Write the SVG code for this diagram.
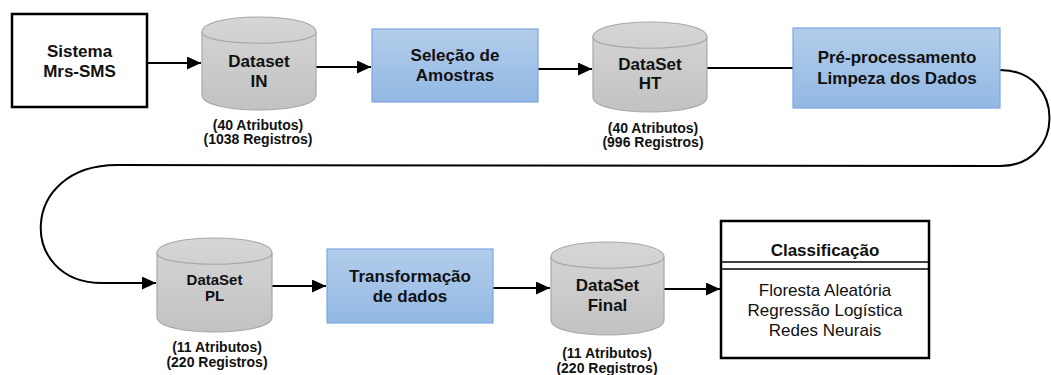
<svg xmlns="http://www.w3.org/2000/svg" width="1051" height="375" viewBox="0 0 1051 375">
<defs>
<linearGradient id="gBlue" x1="0" y1="0" x2="0" y2="1">
<stop offset="0" stop-color="#b3cdeb"/>
<stop offset="1" stop-color="#92b8e3"/>
</linearGradient>
<linearGradient id="gGray" x1="0" y1="0" x2="0" y2="1">
<stop offset="0" stop-color="#d6d6d6"/>
<stop offset="1" stop-color="#c2c2c2"/>
</linearGradient>
<marker id="arr" markerUnits="userSpaceOnUse" markerWidth="14" markerHeight="13" refX="14" refY="6.5" orient="auto">
<path d="M0,0 L14,6.5 L0,13 Z" fill="#000"/>
</marker>
</defs>
<style>
.t{font-family:"Liberation Sans",Arial,sans-serif;font-weight:bold;font-size:17px;text-anchor:middle;fill:#111}
.s{font-size:15px}
.lbl{font-family:"Liberation Sans",Arial,sans-serif;font-weight:bold;font-size:14px;text-anchor:middle;fill:#111}
.r{font-family:"Liberation Sans",Arial,sans-serif;font-size:17px;text-anchor:middle;fill:#111}
.box{fill:#fff;stroke:#000;stroke-width:2.5}
.proc{fill:url(#gBlue);stroke:#7ea6e0;stroke-width:1.2}
.cyl{fill:url(#gGray);stroke:#a8a8a8;stroke-width:1.2}
.cyl2{fill:none;stroke:#a8a8a8;stroke-width:1.2}
.c{fill:none;stroke:#000;stroke-width:2}
</style>

<g id="connectors">
<path class="c" d="M147,63 L201,63" marker-end="url(#arr)"/>
<path class="c" d="M316,67 L371,67" marker-end="url(#arr)"/>
<path class="c" d="M538,69 L592,69" marker-end="url(#arr)"/>
<path class="c" d="M707,68 L793,68"/>
<path class="c" d="M1000,70 C1066,70 1066,166 1000,166 L117,165 C18,165 18,283 102,283 L156,283" marker-end="url(#arr)"/>
<path class="c" d="M272,286 L326,286" marker-end="url(#arr)"/>
<path class="c" d="M493,288 L550,288" marker-end="url(#arr)"/>
<path class="c" d="M664,289 L720,289" marker-end="url(#arr)"/>
</g>

<g id="sistema">
<rect class="box" x="12" y="14" width="135" height="93"/>
<text class="t" x="79.5" y="57">Sistema</text>
<text class="t" x="79.5" y="77">Mrs-SMS</text>
</g>

<g id="dataset-in">
<path class="cyl" d="M202,32 C202,12 316,12 316,32 L316,95 C316,115 202,115 202,95 Z"/>
<path class="cyl2" d="M202,32 C202,47 316,47 316,32"/>
<text class="t" x="259" y="67">Dataset</text>
<text class="t" x="259" y="87">IN</text>
<text class="lbl" x="258" y="130">(40 Atributos)</text>
<text class="lbl" x="258" y="144">(1038 Registros)</text>
</g>

<g id="selecao">
<rect class="proc" x="372" y="29" width="166" height="73"/>
<text class="t" x="455" y="61">Seleção de</text>
<text class="t" x="455" y="81">Amostras</text>
</g>

<g id="dataset-ht">
<path class="cyl" d="M593,37 C593,17 707,17 707,37 L707,97 C707,117 593,117 593,97 Z"/>
<path class="cyl2" d="M593,37 C593,52 707,52 707,37"/>
<text class="t" x="650" y="70">DataSet</text>
<text class="t" x="650" y="89">HT</text>
<text class="lbl" x="653" y="133">(40 Atributos)</text>
<text class="lbl" x="653" y="147">(996 Registros)</text>
</g>

<g id="preprocessamento">
<rect class="proc" x="793" y="28" width="207" height="80"/>
<text class="t" x="897" y="63">Pré-processamento</text>
<text class="t" x="897" y="84">Limpeza dos Dados</text>
</g>

<g id="dataset-pl">
<path class="cyl" d="M157,253 C157,233 272,233 272,253 L272,317 C272,337 157,337 157,317 Z"/>
<path class="cyl2" d="M157,253 C157,268 272,268 272,253"/>
<text class="t s" x="214.5" y="285">DataSet</text>
<text class="t s" x="214.5" y="301">PL</text>
<text class="lbl" x="217" y="352">(11 Atributos)</text>
<text class="lbl" x="217" y="367">(220 Registros)</text>
</g>

<g id="transformacao">
<rect class="proc" x="327" y="249" width="166" height="74"/>
<text class="t" x="410" y="282">Transformação</text>
<text class="t" x="410" y="302">de dados</text>
</g>

<g id="dataset-final">
<path class="cyl" d="M551,257 C551,237 664,237 664,257 L664,320 C664,340 551,340 551,320 Z"/>
<path class="cyl2" d="M551,257 C551,272 664,272 664,257"/>
<text class="t" x="607.5" y="291">DataSet</text>
<text class="t" x="607.5" y="311">Final</text>
<text class="lbl" x="607" y="358">(11 Atributos)</text>
<text class="lbl" x="607" y="373">(220 Registros)</text>
</g>

<g id="classificacao">
<rect class="box" x="721" y="221" width="208" height="137"/>
<line x1="721" y1="262" x2="929" y2="262" stroke="#000" stroke-width="1.5"/>
<line x1="721" y1="269" x2="929" y2="269" stroke="#000" stroke-width="1.5"/>
<text class="t" x="825" y="256">Classificação</text>
<text class="r" x="825" y="296">Floresta Aleatória</text>
<text class="r" x="825" y="316">Regressão Logística</text>
<text class="r" x="825" y="336">Redes Neurais</text>
</g>
</svg>
